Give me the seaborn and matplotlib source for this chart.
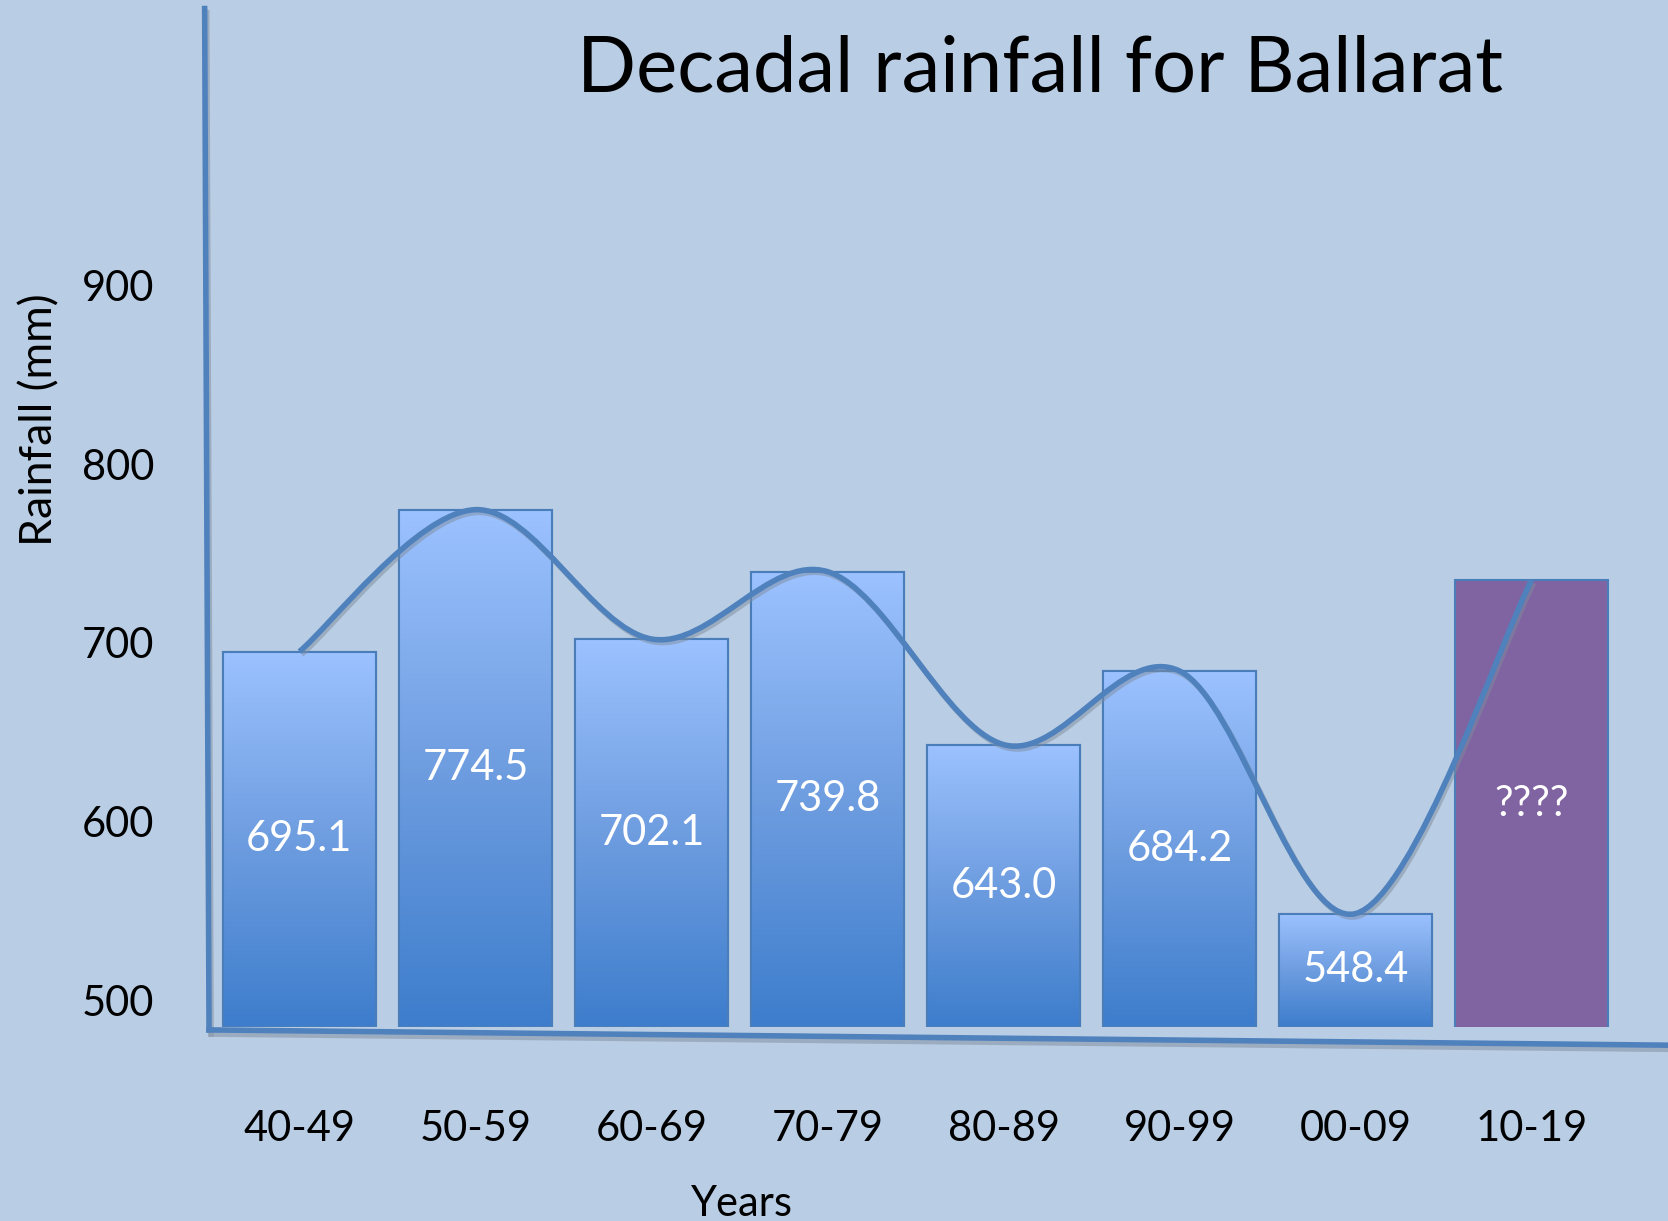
import numpy as np
import matplotlib
matplotlib.use("Agg")
import matplotlib.pyplot as plt
import matplotlib.patheffects as pe
from matplotlib.path import Path
from matplotlib.patches import PathPatch, Rectangle
from matplotlib.colors import LinearSegmentedColormap
import seaborn as sns

# values
decades = ["40-49", "50-59", "60-69", "70-79", "80-89", "90-99", "00-09", "10-19"]
rainfall = [695.1, 774.5, 702.1, 739.8, 643.0, 684.2, 548.4, 735.0]  # last bar is unknown, height estimated
bar_labels = ["695.1", "774.5", "702.1", "739.8", "643.0", "684.2", "548.4", "????"]
y_ticks = [500, 600, 700, 800, 900]

bg = "#B9CDE4"
blue_edge = "#4A7EBB"
line_col = "#4F81BD"
purple = "#8064A2"
grad_cmap = LinearSegmentedColormap.from_list("bar", ["#3D7DCC", "#6E9DE0", "#9CC2FF"])

sns.set_theme(style="white")
plt.rcParams["font.family"] = ["Lato", "DejaVu Sans"]

fig = plt.figure(figsize=(16.68, 12.21), dpi=100, facecolor=bg)
ax = fig.add_axes([0.124, 0.159, 0.876, 0.834], facecolor=bg)
ymin, ymax = 485, 1055

palette = ["#6E9DE0"] * 7 + [purple]
sns.barplot(x=decades, y=rainfall, hue=decades, palette=palette, legend=False,
            width=0.87, saturation=1, ax=ax, edgecolor=blue_edge, linewidth=1.5, zorder=2)

# vertical gradient on the blue bars
grad = np.linspace(0, 1, 256).reshape(-1, 1)
for p in ax.patches[:7]:
    x0, w = p.get_x(), p.get_width()
    top = p.get_y() + p.get_height()
    im = ax.imshow(grad, extent=(x0, x0 + w, ymin, top), origin="lower",
                   aspect="auto", cmap=grad_cmap, zorder=2.1)
    im.set_clip_path(p)
    ax.add_patch(Rectangle((x0, ymin), w, top - ymin, fill=False,
                           edgecolor=blue_edge, lw=1.5, zorder=2.2))

# value labels in the middle of each visible bar
for i, (v, lab) in enumerate(zip(rainfall, bar_labels)):
    ax.text(i, (ymin + v) / 2, lab, color="white", fontsize=30,
            ha="center", va="center", zorder=4)

# smoothed line through the bar tops (catmull-rom as bezier)
pts = np.column_stack([np.arange(len(rainfall)), rainfall]).astype(float)
ext = np.vstack([pts[0], pts, pts[-1]])
verts = [pts[0]]
codes = [Path.MOVETO]
for i in range(len(pts) - 1):
    p0, p1, p2, p3 = ext[i], ext[i + 1], ext[i + 2], ext[i + 3]
    verts += [p1 + (p2 - p0) / 6, p2 - (p3 - p1) / 6, p2]
    codes += [Path.CURVE4] * 3
curve = PathPatch(Path(verts, codes), fill=False, edgecolor=line_col, lw=4, zorder=3,
                  capstyle="butt")
curve.set_path_effects([pe.SimpleLineShadow(offset=(1.5, -2), shadow_color="#7f8c9c", alpha=0.5),
                        pe.Normal()])
ax.add_patch(curve)

ax.set_xlim(-0.526, 7.775)
ax.set_ylim(ymin, ymax)
ax.set_yticks(y_ticks)
ax.tick_params(axis="y", length=0, pad=38, labelsize=30, labelcolor="black")
ax.tick_params(axis="x", length=0, pad=60, labelsize=30, labelcolor="black")
ax.set_xlabel("")
ax.set_ylabel("")

# slightly skewed hand-drawn axes, as on the slide
for s in ax.spines.values():
    s.set_visible(False)
axis_shadow = [pe.SimpleLineShadow(offset=(1.5, -3), shadow_color="#8a97a8", alpha=0.6), pe.Normal()]
ax.plot([-0.0015, 0.0015], [1.0, -0.003], transform=ax.transAxes, color=line_col, lw=4,
        clip_on=False, zorder=5, path_effects=axis_shadow, solid_capstyle="projecting")
ax.plot([0.0015, 1.0], [-0.003, -0.018], transform=ax.transAxes, color=line_col, lw=4,
        clip_on=False, zorder=5, path_effects=axis_shadow, solid_capstyle="projecting")

fig.text(1040 / 1668, 1 - 70 / 1221, "Decadal rainfall for Ballarat", fontsize=56,
         color="black", ha="center", va="center")
fig.text(40 / 1668, 1 - 420 / 1221, "Rainfall (mm)", fontsize=32, rotation=90,
         color="black", ha="center", va="center")
fig.text(742 / 1668, 1 - 1216 / 1221, "Years", fontsize=30, color="black",
         ha="center", va="baseline")

fig.savefig("out.png", dpi=100, facecolor=bg)
